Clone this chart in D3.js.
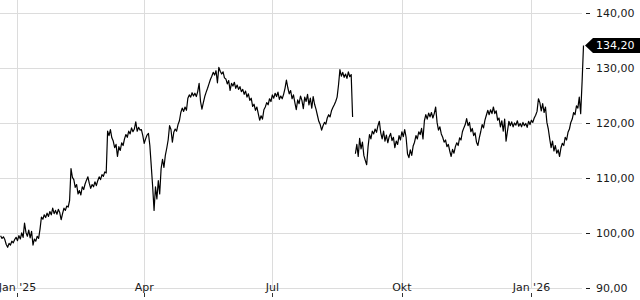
<!DOCTYPE html>
<html lang="de">
<head>
  <meta charset="UTF-8">
  <title>Kursverlauf</title>
  <script src="https://d3js.org/d3.v7.min.js"></script>
  <style>
    body {
      margin: 0;
      background: #fff;
      font-family: "DejaVu Sans", sans-serif;
    }
    .grid line {
      stroke: #dcdcdc;
      stroke-width: 1;
    }
    .axis text {
      font-size: 11px;
      fill: #1a1a1a;
    }
  </style>
</head>
<body>
  <div id="chart"></div>

  <script>
    // one value per calendar day, starting at startDay (null = no quote)
    const startDay = "2024-12-20";
    const prices = [
      99.6, 99.1, 99.4, 98.9, 98.0, 97.5, 98.2, 97.9, 98.6, 98.3,
      98.9, 99.3, 98.7, 99.6, 99.0, 100.1, 99.3, 101.9, 100.2, 99.5,
      100.6, 99.2, 100.4, 97.9, 99.0, 98.6, 99.5, 99.1, 100.8, 103.0,
      102.6, 103.4, 102.9, 103.7, 103.1, 104.0, 103.4, 104.6, 103.6, 104.2,
      103.5, 104.4, 103.8, 102.5, 103.6, 104.6, 104.2, 105.0, 104.8, 106.0,
      111.8, 110.2, 109.8, 108.4, 108.9, 107.2, 107.8, 107.0, 108.5, 108.0,
      109.0, 109.7, 110.3, 109.1, 108.2, 108.9, 108.5, 109.4, 108.7, 109.6,
      110.3, 109.8, 110.7, 110.4, 111.2, 111.0, 118.6, 117.8, 118.9, 117.4,
      116.8, 115.6, 116.2, 114.0, 115.8, 115.1, 116.5, 116.0, 117.2, 118.0,
      117.5, 118.6, 118.1, 119.2, 118.5, 119.0, 120.3, 118.6, 119.3, 118.8,
      118.9, 117.8, 116.4, 117.2, 117.9, 118.2, 116.0, 112.3, 108.5, 104.2,
      108.5, 106.3, 109.6, 107.2, 111.8, 113.5, 112.0, 114.2, 115.5, 117.0,
      119.6, 118.9, 116.6, 118.4, 119.0, 118.6, 119.8, 120.5, 122.0, 122.8,
      122.2, 123.0, 122.4, 124.6, 125.2, 124.8, 125.6, 125.0, 125.5, 124.9,
      125.8, 127.3, 124.0, 122.6, 123.8, 124.9, 125.7, 126.4, 127.2, 128.0,
      128.6, 129.3, 128.8, 129.6, 127.4, 130.2, 129.5, 129.0, 129.4, 128.3,
      128.1, 127.2, 127.8, 126.0, 127.3, 126.8, 127.5, 126.4, 127.0, 126.2,
      126.7, 125.8, 126.2, 125.3, 125.9, 124.8, 125.4, 124.2, 124.6, 123.1,
      123.5, 122.4, 123.0, 121.8, 120.6, 121.4, 120.8, 122.5, 123.0, 123.8,
      123.4, 124.5, 124.0, 125.2, 124.6, 125.5, 124.9, 125.7, 124.4, 125.0,
      124.5, 125.3, 126.4, 127.9, 126.5, 125.4, 126.0, 124.5, 125.2, 123.8,
      122.5, 124.3, 123.6, 125.0, 124.2, 122.7, 124.8, 124.0, 125.3, 123.4,
      124.6, 122.8, 124.9, 123.5, 122.6, 121.5, 120.4, 119.8, 118.8, 119.6,
      120.2, 119.9, 121.0, 121.6, 121.2, 122.3, 122.9, 123.4, 124.0, 124.8,
      127.0, 129.8, 128.6, 129.3, 128.4, 129.0, 128.2, 129.4, 128.5, 128.9,
      121.2, null, 114.5, 116.2, 114.0, 117.3, 115.4, 116.6, 114.2, 113.3,
      112.5, 115.8, 118.0, 117.2, 118.6, 118.1, 119.0, 118.4, 119.6, 120.4,
      118.3, 117.2, 118.6, 116.8, 117.9, 116.5, 117.6, 118.2, 116.9, 117.5,
      115.6, 116.8, 116.2, 117.8, 117.0, 118.5, 117.6, 118.9, 117.5, 114.5,
      113.8, 115.2, 114.2, 115.9, 116.6, 117.8, 117.2, 118.5, 118.0, 119.1,
      117.2, 120.5, 121.6, 120.8, 121.9, 121.2, 122.0, 121.0, 121.8, 123.0,
      120.2, 118.8, 119.4, 118.1, 117.5, 116.6, 117.0, 115.8, 116.2, 115.0,
      114.0, 115.3, 114.6, 115.8, 116.5, 116.0, 117.4, 117.0, 118.5, 119.2,
      119.8, 120.9, 119.6, 120.2, 118.5, 119.1, 117.8, 118.3, 116.6, 116.0,
      117.4, 118.5, 119.8, 119.2, 120.6, 121.5, 122.4, 121.6, 122.5, 121.8,
      123.0, 121.8, 122.3, 120.6, 121.0, 119.4, 120.5, 118.6, 120.8, 116.8,
      118.6, 120.4, 119.6, 120.3, 119.4, 120.1, 119.7, 120.5, 119.5, 120.0,
      119.4, 120.2, 119.6, 120.0, 119.3, 120.4, 119.8, 120.6, 120.2, 121.0,
      121.5, 122.2, 124.5, 123.8, 122.3, 123.6, 122.0, 123.0, 120.2, 119.0,
      117.2, 115.6, 116.8, 115.0, 116.0, 114.6, 115.2, 114.0, 115.6, 116.4,
      116.0, 117.5, 117.0, 118.4, 119.0, 120.2, 120.8, 122.0, 121.6, 123.2,
      122.8, 124.8, 121.8, 127.6, 134.2
    ];
    const tickDates = ["2025-01-01", "2025-04-01", "2025-07-01", "2025-10-01", "2026-01-01"];
    const tickLabels = ["Jan '25", "Apr", "Jul", "Okt", "Jan '26"];
    const yTicks = [90, 100, 110, 120, 130, 140];
    const lastPrice = 134.20;

    const width = 640, height = 300;
    const plotRight = 582, plotBottom = 288.5;

    const svg = d3.select("#chart")
                  .append("svg")
                  .attr("width", width)
                  .attr("height", height);

    const start = new Date(startDay + "T00:00:00Z");
    const data = prices.map((v, i) => ({ date: d3.utcDay.offset(start, i), value: v }));
    const lastDate = data[data.length - 1].date;

    const x = d3.scaleUtc()
                .domain([start, lastDate])
                .range([0.6, 583.5]);

    const y = d3.scaleLinear()
                .domain([90, 140])
                .range([plotBottom, 13.5]);

    const de = d3.formatLocale({decimal: ",", thousands: ".", grouping: [3], currency: ["", " €"]});
    const fmt = de.format(".2f");

    const xTicks = tickDates.map(s => new Date(s + "T00:00:00Z"));
    const px = d => Math.round(x(d)) + 0.5;

    // grid
    const grid = svg.append("g").attr("class", "grid");
    grid.selectAll(".hline")
        .data(yTicks)
        .enter()
        .append("line")
        .attr("x1", 0)
        .attr("x2", plotRight)
        .attr("y1", d => y(d))
        .attr("y2", d => y(d));

    grid.selectAll(".vline")
        .data(xTicks)
        .enter()
        .append("line")
        .attr("x1", px)
        .attr("x2", px)
        .attr("y1", 0)
        .attr("y2", plotBottom);

    // price line
    const line = d3.line()
                   .defined(d => d.value !== null)
                   .x(d => x(d.date))
                   .y(d => y(d.value));

    svg.append("path")
       .datum(data)
       .attr("fill", "none")
       .attr("stroke", "#000")
       .attr("stroke-width", 1.2)
       .attr("stroke-linejoin", "round")
       .attr("d", line);

    // x axis labels
    const xAxis = svg.append("g").attr("class", "axis");
    xAxis.selectAll("text")
         .data(xTicks)
         .enter()
         .append("text")
         .attr("x", d => x(d))
         .attr("y", 291)
         .attr("text-anchor", "middle")
         .text((d, i) => tickLabels[i]);

    xAxis.selectAll("line")
         .data(xTicks)
         .enter()
         .append("line")
         .attr("x1", px)
         .attr("x2", px)
         .attr("y1", 293)
         .attr("y2", 297)
         .attr("stroke", "#333");

    // y axis on the right
    const yAxis = svg.append("g").attr("class", "axis");
    yAxis.selectAll("line")
         .data(yTicks)
         .enter()
         .append("line")
         .attr("x1", 586)
         .attr("x2", 590)
         .attr("y1", d => y(d))
         .attr("y2", d => y(d))
         .attr("stroke", "#1a1a1a");

    yAxis.selectAll("text")
         .data(yTicks)
         .enter()
         .append("text")
         .attr("x", 596)
         .attr("y", d => y(d))
         .attr("dy", "0.35em")
         .text(d => fmt(d));

    // last price tag
    const ly = y(lastPrice);
    const tipX = x(lastDate) + 1.5;
    svg.append("path")
       .attr("d", `M${tipX},${ly} L${tipX + 8},${ly - 7.5} L${width},${ly - 7.5} L${width},${ly + 7.5} L${tipX + 8},${ly + 7.5} Z`)
       .attr("fill", "#000");

    svg.append("text")
       .attr("x", 596)
       .attr("y", ly)
       .attr("dy", "0.35em")
       .style("font-size", "11px")
       .style("fill", "#fff")
       .text(fmt(lastPrice));
  </script>
</body>
</html>
